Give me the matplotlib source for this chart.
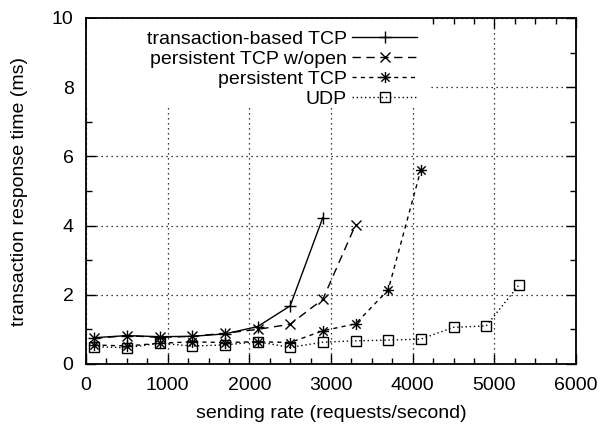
import matplotlib
matplotlib.use("Agg")
import matplotlib.pyplot as plt
from matplotlib.path import Path
from matplotlib.lines import Line2D
from matplotlib.patches import Rectangle
from matplotlib.ticker import MultipleLocator

plt.rcParams['font.family'] = ['Liberation Sans', 'DejaVu Sans']

# sending rate (requests/second) and response time (ms) per protocol
rate_tcp = [100, 500, 900, 1300, 1700, 2100, 2500, 2900]
resp_tcp = [0.76, 0.82, 0.79, 0.80, 0.87, 1.08, 1.68, 4.23]

rate_open = [100, 500, 900, 1300, 1700, 2100, 2500, 2900, 3300]
resp_open = [0.74, 0.82, 0.77, 0.80, 0.89, 1.00, 1.15, 1.87, 4.02]

rate_pers = [100, 500, 900, 1300, 1700, 2100, 2500, 2900, 3300, 3700, 4100]
resp_pers = [0.55, 0.52, 0.60, 0.64, 0.62, 0.645, 0.62, 0.96, 1.16, 2.14, 5.61]

rate_udp = [100, 500, 900, 1300, 1700, 2100, 2500, 2900, 3300, 3700, 4100,
            4500, 4900, 5300]
resp_udp = [0.50, 0.47, 0.60, 0.52, 0.55, 0.645, 0.48, 0.63, 0.67, 0.69, 0.72,
            1.06, 1.10, 2.28]

labels = ["transaction-based TCP", "persistent TCP w/open",
          "persistent TCP", "UDP"]

# gnuplot-style asterisk: a plus and a cross drawn together
star = Path([(-1, 0), (1, 0), (0, -1), (0, 1),
             (-0.75, -0.75), (0.75, 0.75), (-0.75, 0.75), (0.75, -0.75)],
            [Path.MOVETO, Path.LINETO] * 4)

styles = [
    dict(linestyle='-', marker='+', markersize=8),
    dict(linestyle=(0, (6, 4)), marker='x', markersize=7),
    dict(linestyle=(0, (3, 3)), marker=star, markersize=8,
         markerfacecolor='none'),
    dict(linestyle=(0, (1, 2)), marker='s', markersize=7,
         markerfacecolor='none'),
]
common = dict(color='black', lw=1.0, markeredgewidth=1.0)

W, H = 601, 428
fig = plt.figure(figsize=(W / 100, H / 100), dpi=100)
ax = fig.add_axes([86 / W, 1 - 364 / H, 490 / W, 346 / H])

series = [(rate_tcp, resp_tcp), (rate_open, resp_open),
          (rate_pers, resp_pers), (rate_udp, resp_udp)]
for (xs, ys), st in zip(series, styles):
    ax.plot(xs, ys, zorder=3, **common, **st)

ax.set_xlim(0, 6000)
ax.set_ylim(0, 10)
ax.xaxis.set_major_locator(MultipleLocator(1000))
ax.xaxis.set_minor_locator(MultipleLocator(250))
ax.yaxis.set_major_locator(MultipleLocator(2))
ax.yaxis.set_minor_locator(MultipleLocator(1))
ax.tick_params(which='both', direction='in', top=True, right=True,
               labelsize=14, width=1.0, colors='black')
ax.tick_params(which='major', length=7, pad=9)
ax.tick_params(which='minor', length=4)

ax.grid(True, which='major', color='black', linestyle=(0, (1, 3)), lw=0.9)
ax.set_axisbelow(True)
for s in ax.spines.values():
    s.set_linewidth(1.3)

ax.set_xlabel("sending rate (requests/second)", fontsize=14, labelpad=8)
ax.set_ylabel("transaction response time (ms)", fontsize=14, labelpad=17)

# key: opaque area over the grid, labels right-aligned before the samples
def fx(px):
    return px / W


def fy(py):
    return 1 - py / H


ax.add_artist(Rectangle((fx(87), fy(108)), fx(428) - fx(87), fy(19) - fy(108),
                        transform=fig.transFigure, facecolor='white',
                        edgecolor='none', zorder=2.5))
for i, (lab, st) in enumerate(zip(labels, styles)):
    yrow = 37.3 + 20 * i
    fig.text(fx(347), fy(yrow + 7.2), lab, ha='right', va='baseline',
             fontsize=14, zorder=4)
    ax.add_artist(Line2D([fx(352), fx(417)], [fy(yrow), fy(yrow)],
                         transform=fig.transFigure, clip_on=False, zorder=4,
                         color='black', lw=1.0, linestyle=st['linestyle']))
    mk = {k: v for k, v in st.items() if k != 'linestyle'}
    ax.add_artist(Line2D([fx(384.5)], [fy(yrow)], transform=fig.transFigure,
                         clip_on=False, zorder=4, linestyle='none',
                         color='black', markeredgewidth=1.0, **mk))

fig.savefig("out.png", dpi=100)
